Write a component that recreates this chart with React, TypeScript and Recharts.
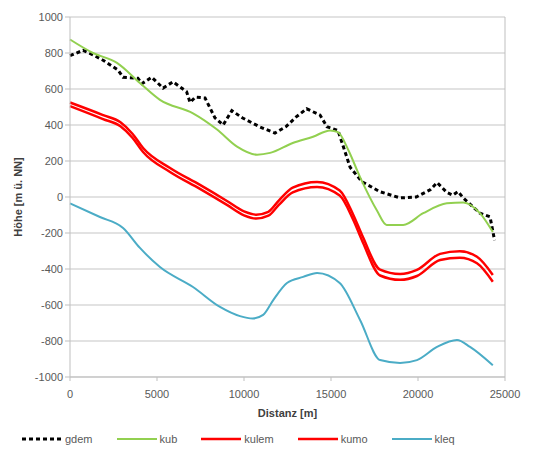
import React from 'react';
import { LineChart, Line, XAxis, YAxis, CartesianGrid, Legend, ReferenceLine } from 'recharts';

const xTicks = [0, 5000, 10000, 15000, 20000, 25000];
const yTicks = [-1000, -800, -600, -400, -200, 0, 200, 400, 600, 800, 1000];

const gdemDistance = [0, 750, 1320, 1900, 2760, 3050, 3900, 4140, 4700, 5350, 5920, 6700, 6900, 7200, 7760, 8330, 8800, 9300, 9900, 10900, 11780, 12400, 13000, 13600, 14370, 14770, 15400, 16100, 16780, 17800, 18970, 19900, 20700, 21100, 21660, 22000, 22300, 22600, 23560, 24140, 24400];
const gdemHeight = [785, 815, 790, 760, 705, 665, 660, 630, 665, 605, 640, 585, 525, 555, 550, 440, 400, 480, 440, 390, 355, 390, 445, 490, 455, 390, 370, 165, 85, 30, -5, 0, 40, 80, 25, 10, 30, -5, -90, -110, -240];

const kubDistance = [0, 1320, 2700, 4000, 5170, 7070, 8450, 9600, 10750, 11500, 12800, 13970, 14950, 15400, 16000, 16670, 17640, 18200, 19150, 20300, 21660, 22600, 23560, 24300];
const kubHeight = [875, 800, 745, 635, 540, 465, 375, 280, 235, 245, 300, 335, 370, 360, 260, 110, -75, -155, -155, -90, -35, -30, -90, -195];

const redDistance = [0, 1900, 2900, 3600, 4200, 5750, 7470, 9020, 10000, 10700, 11400, 12000, 12800, 14200, 15500, 16270, 16840, 17820, 18970, 19940, 21270, 22400, 23390, 24300];
const kulemHeight = [525, 455, 415, 350, 272, 161, 67, -22, -80, -98, -82, -20, 52, 84, 36, -97, -224, -404, -428, -405, -316, -302, -332, -433];
const kumoHeight = [505, 433, 393, 328, 250, 139, 45, -44, -102, -120, -104, -44, 26, 56, 8, -125, -254, -436, -460, -439, -350, -338, -368, -471];

const klegDistance = [0, 1720, 3050, 4020, 5170, 7070, 8620, 9770, 10500, 11100, 11700, 12470, 13400, 14200, 15500, 16670, 17820, 18970, 19940, 21090, 22240, 22990, 24300];
const klegHeight = [-35, -111, -172, -283, -389, -500, -611, -662, -675, -655, -570, -478, -444, -422, -478, -683, -906, -922, -906, -833, -794, -833, -935];

const zip = (xs: number[], ys: number[]) => xs.map((x, i) => ({ x, y: ys[i] }));

const series = [
  { name: 'gdem', data: zip(gdemDistance, gdemHeight), color: '#000000', width: 3, dash: '4 3', type: 'linear' },
  { name: 'kub', data: zip(kubDistance, kubHeight), color: '#92D050', width: 2, dash: undefined, type: 'monotone' },
  { name: 'kulem', data: zip(redDistance, kulemHeight), color: '#FF0000', width: 2.5, dash: undefined, type: 'monotone' },
  { name: 'kumo', data: zip(redDistance, kumoHeight), color: '#FF0000', width: 2.5, dash: undefined, type: 'monotone' },
  { name: 'kleq', data: zip(klegDistance, klegHeight), color: '#4BACC6', width: 2, dash: undefined, type: 'monotone' },
];

const FONT = '"Liberation Sans", Arial, sans-serif';

const renderLegend = () => (
  <div style={{ display: 'flex', justifyContent: 'flex-start', paddingLeft: 22, gap: 24, fontFamily: FONT, fontSize: 11, color: '#595959' }}>
    {series.map((s) => (
      <div key={s.name} style={{ display: 'flex', alignItems: 'center' }}>
        <svg width={40} height={10}>
          <line x1={0} y1={5} x2={40} y2={5} stroke={s.color} strokeWidth={s.width} strokeDasharray={s.dash} />
        </svg>
        <span style={{ marginLeft: 3 }}>{s.name}</span>
      </div>
    ))}
  </div>
);

export default function App() {
  return (
    <div style={{ position: 'absolute', left: 0, top: 0, background: '#fff' }}>
      <LineChart width={535} height={460} margin={{ top: 17, right: 30, bottom: 15, left: 10 }}>
        <CartesianGrid vertical={false} stroke="#D9D9D9" strokeWidth={1.5} />
        <XAxis
          type="number"
          dataKey="x"
          domain={[0, 25000]}
          ticks={xTicks}
          height={38}
          tick={{ fontSize: 11, fill: '#595959', fontFamily: FONT, dy: 7 }}
          stroke="#BFBFBF"
          tickSize={4}
          label={{ value: 'Distanz [m]', position: 'insideBottom', offset: -2, style: { fontSize: 11, fontWeight: 'bold', fill: '#404040', fontFamily: FONT } }}
        />
        <YAxis
          type="number"
          domain={[-1000, 1000]}
          ticks={yTicks}
          width={60}
          tick={{ fontSize: 11, fill: '#595959', fontFamily: FONT }}
          stroke="#BFBFBF"
          tickSize={5}
          label={{ value: 'Höhe [m ü. NN]', angle: -90, position: 'insideLeft', offset: 8, style: { textAnchor: 'middle', fontSize: 11, fontWeight: 'bold', fill: '#404040', fontFamily: FONT } }}
        />
        <ReferenceLine x={25000} stroke="#BFBFBF" />
        <Legend verticalAlign="bottom" height={30} content={renderLegend} wrapperStyle={{ top: 433, left: 0, width: 535 }} />
        {series.map((s) => (
          <Line
            key={s.name}
            data={s.data}
            dataKey="y"
            name={s.name}
            type={s.type as any}
            stroke={s.color}
            strokeWidth={s.width}
            strokeDasharray={s.dash}
            dot={false}
            activeDot={false}
            isAnimationActive={false}
          />
        ))}
      </LineChart>
    </div>
  );
}
